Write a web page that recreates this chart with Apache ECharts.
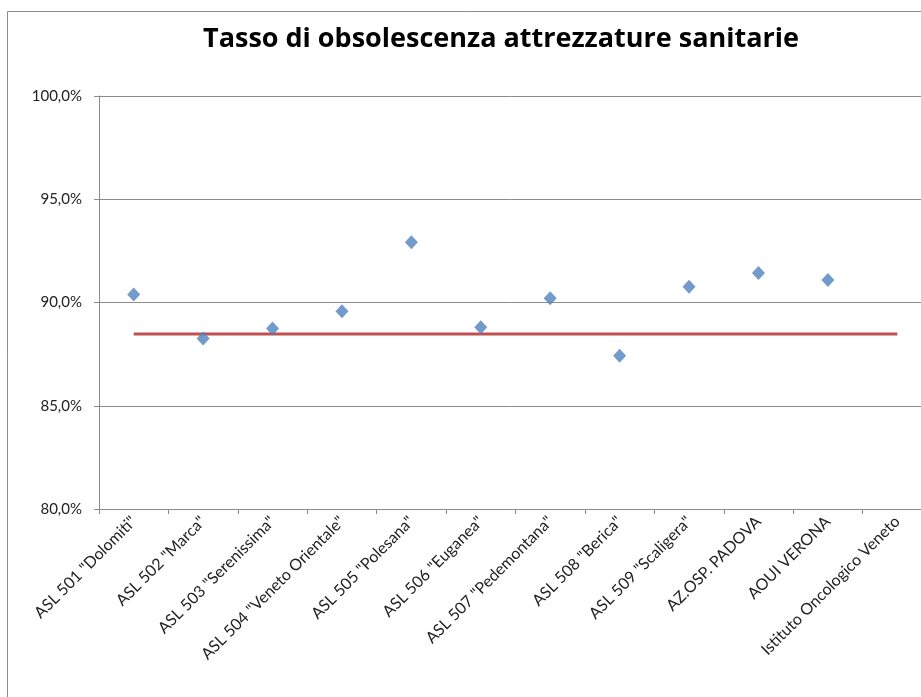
<!DOCTYPE html>
<html>
<head>
<meta charset="utf-8">
<script src="https://cdn.jsdelivr.net/npm/echarts@6/dist/echarts.min.js"></script>
<style>
  html, body { margin: 0; padding: 0; background: #fff; }
  #chart { width: 921px; height: 697px; }
</style>
</head>
<body>
<div id="chart"></div>
<script>
const categories = [
  'ASL 501 "Dolomiti"', 'ASL 502 "Marca"', 'ASL 503 "Serenissima"',
  'ASL 504 "Veneto Orientale"', 'ASL 505 "Polesana"', 'ASL 506 "Euganea"',
  'ASL 507 "Pedemontana"', 'ASL 508 "Berica"', 'ASL 509 "Scaligera"',
  'AZ.OSP. PADOVA', 'AOUI VERONA', 'Istituto Oncologico Veneto'
]
// tasso per azienda (ultimo valore mancante)
const tasso = [90.39, 88.26, 88.74, 89.58, 92.92, 88.8, 90.2, 87.42, 90.76, 91.43, 91.09, null]
// valore medio regionale
const media = [88.47, 88.47, 88.47, 88.47, 88.47, 88.47, 88.47, 88.47, 88.47, 88.47, 88.47, 88.47]
const yTicks = [80, 85, 90, 95, 100]

const chart = echarts.init(document.getElementById('chart'))
const option = {
  animation: false,
  textStyle: { fontFamily: 'Lato' },
  title: {
    text: 'Tasso di obsolescenza attrezzature sanitarie',
    left: 496,
    textAlign: 'center',
    top: 21,
    textStyle: { fontFamily: 'Open Sans', fontWeight: 'bold', fontSize: 27, color: '#000' }
  },
  graphic: [{
    type: 'rect',
    shape: { x: 7.5, y: 11.5, width: 1000, height: 800 },
    style: { fill: 'none', stroke: '#8c8c8c', lineWidth: 1 },
    silent: true
  }],
  // il grafico originale prosegue oltre il bordo destro
  grid: { left: 99, width: 833, top: 96, bottom: 188, outerBoundsMode: 'none', containLabel: false },
  xAxis: {
    type: 'category',
    data: categories,
    boundaryGap: true,
    axisLine: { lineStyle: { color: '#8c8c8c', width: 1 } },
    axisTick: { show: true, length: 5, lineStyle: { color: '#8c8c8c' } },
    axisLabel: { rotate: 45, interval: 0, margin: 10, fontSize: 16, color: '#222', fontFamily: 'Lato' }
  },
  yAxis: {
    type: 'value',
    min: yTicks[0],
    max: yTicks[yTicks.length - 1],
    interval: 5,
    axisLine: { show: true, lineStyle: { color: '#8c8c8c', width: 1 } },
    axisTick: { show: true, length: 5, lineStyle: { color: '#8c8c8c' } },
    splitLine: { lineStyle: { color: '#8c8c8c', width: 1 } },
    axisLabel: {
      margin: 17, fontSize: 15, color: '#222', fontFamily: 'Lato',
      formatter: v => v.toFixed(1).replace('.', ',') + '%'
    }
  },
  series: [
    {
      name: 'Media',
      type: 'line',
      data: media,
      symbol: 'none',
      lineStyle: { color: '#c0504d', width: 3 },
      z: 2
    },
    {
      name: 'Tasso',
      type: 'scatter',
      data: tasso,
      symbol: 'diamond',
      symbolSize: [13, 14],
      itemStyle: { color: '#4f81bd' },
      z: 3
    }
  ]
}
chart.setOption(option)
</script>
</body>
</html>
